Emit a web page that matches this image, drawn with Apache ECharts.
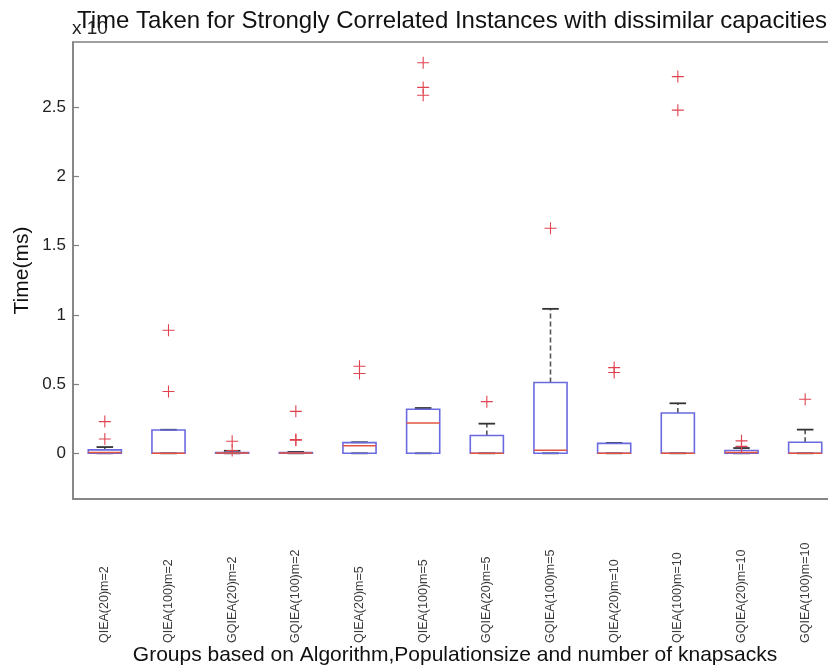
<!DOCTYPE html>
<html>
<head>
<meta charset="utf-8">
<script src="https://cdn.jsdelivr.net/npm/echarts@6/dist/echarts.min.js"></script>
<style>
  html, body { margin: 0; padding: 0; background: #ffffff; }
  #chart { width: 828px; height: 667px; }
</style>
</head>
<body>
<div id="chart"></div>
<script>
// Groups: algorithm (population size) and number of knapsacks
var categories = [
  'QIEA(20)m=2', 'QIEA(100)m=2', 'GQIEA(20)m=2', 'GQIEA(100)m=2',
  'QIEA(20)m=5', 'QIEA(100)m=5', 'GQIEA(20)m=5', 'GQIEA(100)m=5',
  'QIEA(20)m=10', 'QIEA(100)m=10', 'GQIEA(20)m=10', 'GQIEA(100)m=10'
];

// Box statistics per group (axis units, scaled by the exponent shown above the axis)
var lowerWhisker = [0, 0, 0, 0, 0, 0, 0, 0, 0, 0, 0, 0];
var quartile1    = [0, 0, 0, 0, 0, 0, 0, 0, 0, 0, 0, 0];
var medians      = [0.005, 0, 0.002, 0.002, 0.055, 0.219, 0, 0.022, 0, 0, 0.005, 0];
var quartile3    = [0.025, 0.168, 0.006, 0.006, 0.077, 0.318, 0.128, 0.511, 0.072, 0.291, 0.02, 0.08];
var upperWhisker = [0.045, 0.17, 0.018, 0.01, 0.08, 0.327, 0.214, 1.043, 0.075, 0.361, 0.038, 0.171];

// Outliers as [group index, value]
var outliers = [
  [0, 0.229], [0, 0.103],
  [1, 0.889], [1, 0.446],
  [2, 0.087], [2, 0.02],
  [3, 0.303], [3, 0.099], [3, 0.094],
  [4, 0.629], [4, 0.576],
  [5, 2.82], [5, 2.642], [5, 2.585],
  [6, 0.373],
  [7, 1.625],
  [8, 0.619], [8, 0.583],
  [9, 2.72], [9, 2.478],
  [10, 0.09], [10, 0.05],
  [11, 0.39]
];

var FONT = '"Liberation Sans", Arial, sans-serif';

var boxData = categories.map(function (c, i) {
  return [i, lowerWhisker[i], quartile1[i], medians[i], quartile3[i], upperWhisker[i]];
});

function renderBox(params, api) {
  var idx = api.value(0);
  var lo = api.coord([idx, api.value(1)]);
  var q1 = api.coord([idx, api.value(2)]);
  var md = api.coord([idx, api.value(3)]);
  var q3 = api.coord([idx, api.value(4)]);
  var hi = api.coord([idx, api.value(5)]);
  var band = api.size([1, 0])[0];
  var hw = band * 0.26;
  var cw = hw * 0.5;
  var x = q1[0];
  var whiskerStyle = { stroke: '#555555', lineWidth: 1.6, lineDash: [5, 3] };
  var capStyle = { stroke: '#333333', lineWidth: 1.8 };
  return {
    type: 'group',
    children: [
      { type: 'line', shape: { x1: x, y1: q3[1], x2: x, y2: hi[1] }, style: whiskerStyle },
      { type: 'line', shape: { x1: x, y1: q1[1], x2: x, y2: lo[1] }, style: whiskerStyle },
      { type: 'line', shape: { x1: x - cw, y1: hi[1], x2: x + cw, y2: hi[1] }, style: capStyle },
      { type: 'line', shape: { x1: x - cw, y1: lo[1], x2: x + cw, y2: lo[1] }, style: capStyle },
      { type: 'rect', shape: { x: x - hw, y: q3[1], width: hw * 2, height: q1[1] - q3[1] },
        style: { fill: 'none', stroke: '#6a6ae0', lineWidth: 1.6 } },
      { type: 'line', shape: { x1: x - hw, y1: md[1], x2: x + hw, y2: md[1] },
        style: { stroke: '#e2553f', lineWidth: 1.5 } }
    ]
  };
}

var chart = echarts.init(document.getElementById('chart'));
chart.setOption({
  backgroundColor: '#ffffff',
  animation: false,
  textStyle: { fontFamily: FONT },
  grid: {
    left: 73, top: 42, width: 764, height: 457,
    containLabel: false, outerBoundsMode: 'none',
    show: true, borderColor: '#808080', borderWidth: 1.5, backgroundColor: 'transparent'
  },
  graphic: [
    {
      type: 'text', left: 77, top: 9,
      style: {
        text: 'Time Taken for Strongly Correlated Instances with dissimilar capacities',
        font: '24px ' + FONT, fill: '#111111'
      }
    },
    {
      type: 'text', left: 72, top: 19,
      style: { text: 'x 10', font: '19px ' + FONT, fill: '#222222' }
    }
  ],
  xAxis: {
    type: 'category',
    data: categories,
    boundaryGap: true,
    name: 'Groups based on Algorithm,Populationsize and number of knapsacks',
    nameLocation: 'middle',
    nameGap: 146,
    nameMoveOverlap: false,
    nameTextStyle: { fontSize: 21, color: '#111111', fontFamily: FONT },
    axisLine: { onZero: false, lineStyle: { color: '#808080', width: 1.5 } },
    axisTick: { show: false },
    axisLabel: {
      rotate: 90, align: 'left', margin: 144, interval: 0,
      fontSize: 12.5, color: '#3a3a3a', fontFamily: FONT
    },
    splitLine: { show: false }
  },
  yAxis: {
    type: 'value',
    min: -0.33,
    max: 2.97,
    splitNumber: 7,
    name: 'Time(ms)',
    nameLocation: 'middle',
    nameGap: 40,
    nameMoveOverlap: false,
    nameTextStyle: { fontSize: 21, color: '#111111', fontFamily: FONT },
    axisLine: { show: true, lineStyle: { color: '#808080', width: 1.5 } },
    axisTick: { show: true, inside: true, length: 6, lineStyle: { color: '#808080', width: 1.2 } },
    axisLabel: {
      showMinLabel: false, showMaxLabel: false, margin: 7,
      fontSize: 17, color: '#222222', fontFamily: FONT,
      formatter: function (v) { return String(v); }
    },
    splitLine: { show: false }
  },
  series: [
    {
      type: 'custom',
      renderItem: renderBox,
      data: boxData,
      encode: { x: 0, y: [1, 2, 3, 4, 5] },
      z: 2
    },
    {
      type: 'scatter',
      data: outliers,
      symbol: 'path://M10.9,0H13.1V10.9H24V13.1H13.1V24H10.9V13.1H0V10.9H10.9Z',
      symbolSize: 12,
      itemStyle: { color: '#e0434f', opacity: 1 },
      z: 3
    }
  ]
});
</script>
</body>
</html>
